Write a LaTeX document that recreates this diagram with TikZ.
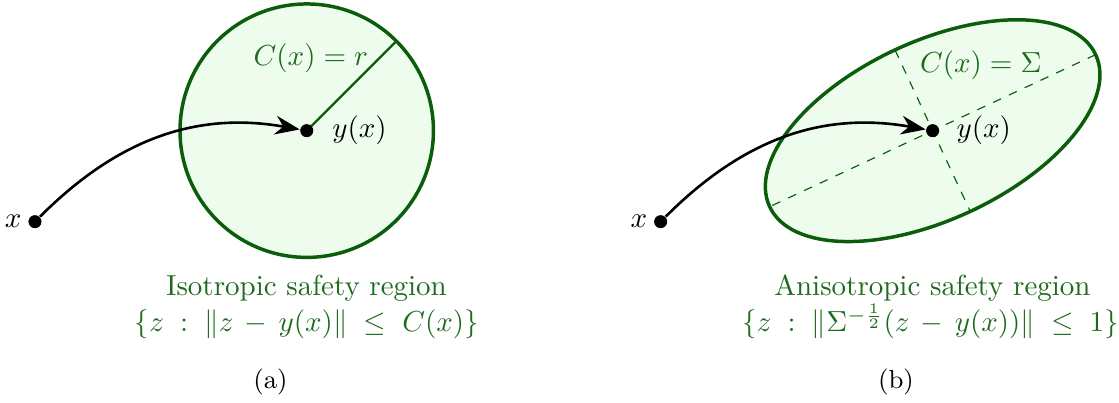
\documentclass[tikz,border=0pt]{standalone}
\usepackage{amsmath}
\usepackage{tikz}
\usetikzlibrary{arrows.meta,positioning,calc}
\definecolor{safegreen}{HTML}{0B5D0B}
\definecolor{safefill}{HTML}{EEFCEE}
\definecolor{safetext}{HTML}{1E6B1E}

\begin{document}
\begin{tikzpicture}[>={Stealth[length=8.5pt,width=6.5pt]},
 dot/.style={circle,fill=black,inner sep=0pt,minimum size=4.5pt},
 region/.style={draw=safegreen,fill=safefill,line width=1.2pt},
 axis/.style={draw=safegreen,dashed,line width=.4pt},
 g/.style={text=safetext},
 a/.style={->,line width=.9pt}]
\useasboundingbox (0,0) rectangle (13.564,-4.885);
% (a) isotropic region
\coordinate (ca) at (3.718,-1.584);
\draw[region] (ca) circle (1.536);
\draw[safegreen,line width=.8pt] (ca)--($(ca)+(45:1.536)$);
\node[dot] (ya) at (ca) {};\node[dot] (xa) at (0.424,-2.687) {};
\node[left=1pt of xa,inner sep=1pt] (lxa) {$x$};\node[right=.1cm of ya] (lya) {$y(x)$};
\node[g] (ra) at (3.768,-0.71) {$C(x)=r$};
\draw[a] (xa) to[out=45,in=170] (ya);
\node[g,anchor=base] (ta) at (3.715,-3.588) {Isotropic safety region};
\node[g,anchor=base] (fa) at (3.718,-4.021) {$\{z \;:\; \|z \,-\, y(x)\| \;\le\; C(x)\}$};
\node[anchor=base,font=\small] (capa) at (3.279,-4.715) {(a)};
% (b) anisotropic region
\coordinate (cb) at (11.305,-1.584);
\draw[region,rotate around={25:(cb)}] (cb) ellipse[x radius=2.18,y radius=1.08];
\draw[axis] ($(cb)+(25:2.18)$)--($(cb)+(205:2.18)$);\draw[axis] ($(cb)+(115:1.08)$)--($(cb)+(295:1.08)$);
\node[dot] (yb) at (cb) {};\node[dot] (xb) at (8.008,-2.687) {};
\node[left=1pt of xb,inner sep=1pt] (lxb) {$x$};\node[right=.08cm of yb] (lyb) {$y(x)$};
\node[g] (rb) at (11.889,-0.789) {$C(x)=\Sigma$};
\draw[a] (xb) to[out=45,in=170] (yb);
\node[g,anchor=base] (tb) at (11.303,-3.588) {Anisotropic safety region};
\node[g,anchor=base] (fb) at (11.279,-4.021) {$\{z \;:\; \|\Sigma^{-\frac{1}{2}}(z \,-\, y(x))\| \;\le\; 1\}$};
\node[anchor=base,font=\small] (capb) at (10.861,-4.715) {(b)};
\end{tikzpicture}
\end{document}
